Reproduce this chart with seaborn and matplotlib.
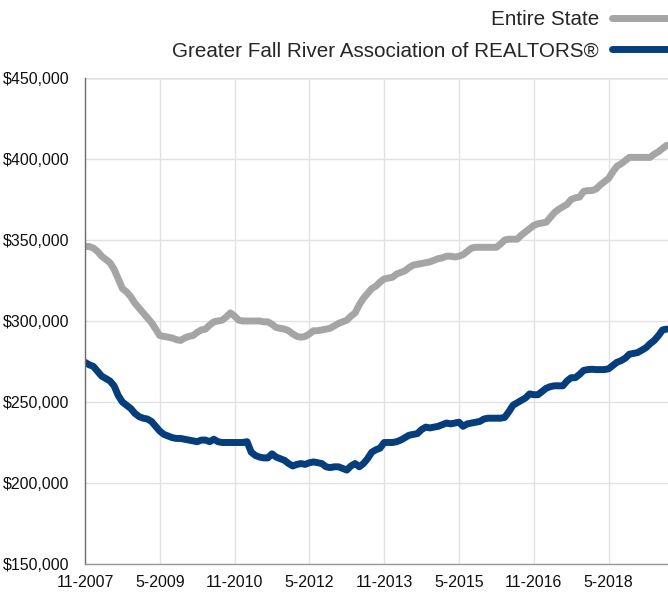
import numpy as np
import pandas as pd
import matplotlib
matplotlib.use("Agg")
import matplotlib.pyplot as plt
import seaborn as sns

# monthly median sale price (thousands of $), Nov 2007 .. Jul 2019
state_k = [
    346, 346, 345, 343, 340, 338, 336, 332, 326, 320,
    318, 315, 311, 308, 305, 302, 299, 295, 291, 290.5,
    290, 289.5, 288.5, 288, 289.5, 290.5, 291, 293, 294.5, 295,
    297.5, 299.5, 300, 300.5, 302.5, 305, 303, 300.5, 300, 300,
    300, 300, 300, 299.5, 299.5, 298, 296, 295.5, 295, 294,
    292, 290.5, 290, 290.5, 292, 294, 294, 294.5, 295, 295.5,
    297, 298.5, 299.5, 300.5, 303, 305, 310, 314, 317, 320,
    321.5, 324, 326, 326.5, 327, 329, 330, 331, 333, 334.5,
    335, 335.5, 336, 336.5, 337.5, 338.5, 339, 340, 340, 339.5,
    340, 341, 343, 345, 345.5, 345.5, 345.5, 345.5, 345.5, 345.5,
    347.5, 350, 350.5, 350.5, 350.5, 353, 355, 357, 359, 360,
    360.5, 361, 364, 367, 369, 370.5, 372, 375, 376, 376.5,
    380, 380.5, 380.5, 381.5, 384, 386, 388, 392, 395.5, 397,
    399, 401, 401, 401, 401, 401, 401, 403, 404.5, 406.5,
    408.5,
]
fall_river_k = [
    274.5, 273, 272, 269, 266, 264.5, 263, 260, 254, 250,
    248, 246, 243, 241, 240, 239.5, 238, 235, 232, 230,
    229, 228, 227.5, 227.5, 227, 226.5, 226, 225.5, 226.5, 226.5,
    225.5, 227, 225.5, 225, 225, 225, 225, 225, 225, 225.5,
    219, 217, 216, 215.5, 215.5, 218, 216, 215, 214, 212,
    210.5, 211.5, 212, 211.5, 212.5, 213, 212.5, 212, 210, 209.5,
    210, 210, 209, 208, 210.5, 212, 210, 212, 215, 219,
    220.5, 221.5, 225, 225, 225, 225.5, 226.5, 228, 229.5, 230,
    230.5, 233, 234.5, 234, 234.5, 235, 236, 237, 236.5, 237,
    237.5, 235, 236.5, 237, 237.5, 238, 239.5, 240, 240, 240,
    240, 240.5, 244, 248, 249.5, 251, 252.5, 255, 254.5, 254.5,
    256.5, 258.5, 259.5, 260, 260, 260, 263, 265, 265, 267,
    269.5, 270, 270.2, 270, 270, 270, 270.5, 272.5, 274.5, 275.5,
    277, 279.5, 280, 280.5, 282, 283.5, 286, 288, 291, 294.5,
    295,
]
series_names = ["Entire State", "Greater Fall River Association of REALTORS®"]
series_colors = ["#a5a5a5", "#053d7d"]
tick_labels = ["11-2007", "5-2009", "11-2010", "5-2012",
               "11-2013", "5-2015", "11-2016", "5-2018"]
y_ticks = [150000, 200000, 250000, 300000, 350000, 400000, 450000]

months = np.arange(len(state_k))
df = pd.DataFrame({
    "month": np.concatenate([months, months]),
    "price": np.concatenate([np.array(state_k), np.array(fall_river_k)]) * 1000,
    "series": [series_names[0]] * len(state_k) + [series_names[1]] * len(fall_river_k),
})

sns.set_style("white")
plt.rcParams["font.family"] = ["Liberation Sans", "DejaVu Sans"]

W, H = 668, 592
fig = plt.figure(figsize=(W / 100, H / 100), dpi=100)
ax = fig.add_axes([85 / W, 1 - 564 / H, 1 - 85 / W, (564 - 78) / H])

sns.lineplot(data=df, x="month", y="price", hue="series",
             palette=dict(zip(series_names, series_colors)),
             linewidth=5, ax=ax, legend=False,
             solid_capstyle="round", solid_joinstyle="round")

ax.set_xlim(0, 140.3)
ax.set_ylim(150000, 450000)
ax.set_xticks(np.arange(0, 18 * len(tick_labels), 18))
ax.set_xticklabels(tick_labels)
ax.set_yticks(y_ticks)
ax.set_yticklabels([f"${v:,.0f}" for v in y_ticks])
ax.set_xlabel("")
ax.set_ylabel("")

ax.grid(True, color="#e2e2e2", linewidth=1)
ax.set_axisbelow(True)
for s in ["top", "right"]:
    ax.spines[s].set_visible(False)
ax.spines["left"].set_color("#6e6e6e")
ax.spines["bottom"].set_color("#9a9a9a")
ax.spines["left"].set_linewidth(1)
ax.spines["bottom"].set_linewidth(1)
ax.tick_params(axis="y", length=6, color="#8a8a8a", pad=5, labelsize=11.5, labelcolor="#111111")
ax.tick_params(axis="x", length=0, pad=8, labelsize=11.5, labelcolor="#111111")

# top gridline darker like the reference
ax.axhline(450000, color="#9a9a9a", linewidth=1, zorder=0.5)

handles = [plt.Line2D([], [], color=c, linewidth=5, solid_capstyle="round")
           for c in series_colors]
fig.legend(handles, series_names, loc="upper right",
           bbox_to_anchor=(682 / W, 1 - 10 / H), frameon=False,
           markerfirst=False, fontsize=14.9, handlelength=3.4,
           handletextpad=0.6, borderpad=0, borderaxespad=0,
           labelspacing=0.6)

fig.savefig("out.png", dpi=100)
